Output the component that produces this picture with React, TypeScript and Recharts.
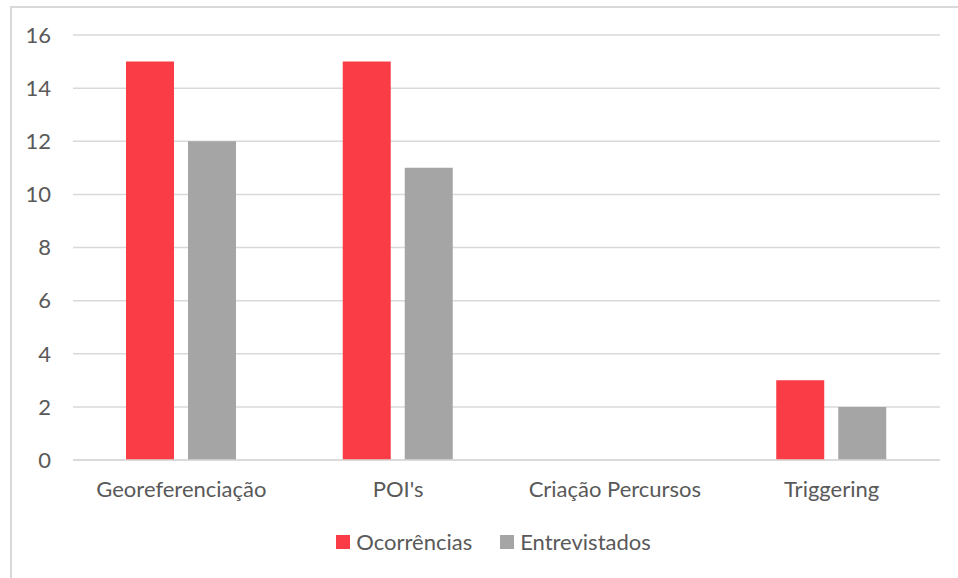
import { BarChart, Bar, XAxis, YAxis, CartesianGrid, Legend } from 'recharts';

const categories = ['Georeferenciação', "POI's", 'Criação Percursos', 'Triggering'];
const ocorrencias = [15, 15, 0, 3];
const entrevistados = [12, 11, 0, 2];
const yTicks = [0, 2, 4, 6, 8, 10, 12, 14, 16];

const RED = '#f93c46';
const GRAY = '#a5a5a5';
const TEXT = '#595959';
const GRID = '#d9d9d9';
const FONT = 'Lato, "Open Sans", sans-serif';
const FS = 22;

const data = categories.map((name, i) => ({
  name,
  ocorrencias: ocorrencias[i],
  entrevistados: entrevistados[i],
}));

const seriesOrder = ['ocorrencias', 'entrevistados'];
const labels: Record<string, string> = {
  ocorrencias: 'Ocorrências',
  entrevistados: 'Entrevistados',
};

function LegendContent({ payload }: any) {
  const items = [...(payload ?? [])].sort(
    (a: any, b: any) => seriesOrder.indexOf(String(a.dataKey)) - seriesOrder.indexOf(String(b.dataKey)),
  );
  return (
    <div style={{ display: 'flex', justifyContent: 'center', gap: 28, paddingLeft: 47, fontFamily: FONT, fontSize: FS, color: TEXT }}>
      {items.map((p: any) => (
        <span key={p.dataKey} style={{ display: 'inline-flex', alignItems: 'center' }}>
          <span style={{ width: 14, height: 14, background: p.color, marginRight: 6, display: 'inline-block' }} />
          {labels[String(p.dataKey)] ?? p.value}
        </span>
      ))}
    </div>
  );
}

export default function App() {
  return (
    <div style={{ position: 'fixed', left: 0, top: 0, width: 958, height: 578, background: '#fff', overflow: 'hidden' }}>
      {/* outer frame, only top and left edges show */}
      <div style={{ position: 'absolute', left: 10, top: 6, width: 980, height: 620, border: `2px solid ${GRID}`, boxSizing: 'border-box' }} />
      <div style={{ position: 'absolute', left: 0, top: 0 }}>
        <BarChart
          width={958}
          height={578}
          data={data}
          margin={{ top: 35, right: 18, bottom: 61, left: 0 }}
          barSize={48}
          barGap={14}
        >
          <CartesianGrid vertical={false} stroke={GRID} strokeWidth={1.5} />
          <XAxis
            dataKey="name"
            axisLine={{ stroke: GRID, strokeWidth: 1.5 }}
            tickLine={false}
            tickMargin={15}
            tick={{ fill: TEXT, fontSize: FS, fontFamily: FONT }}
            interval={0}
          />
          <YAxis
            width={73}
            domain={[0, 16]}
            ticks={yTicks}
            axisLine={false}
            tickLine={false}
            tickMargin={16}
            tick={{ fill: TEXT, fontSize: FS, fontFamily: FONT }}
          />
          <Legend verticalAlign="bottom" content={<LegendContent />} wrapperStyle={{ top: 528 }} />
          <Bar dataKey="ocorrencias" fill={RED} isAnimationActive={false} />
          <Bar dataKey="entrevistados" fill={GRAY} isAnimationActive={false} />
        </BarChart>
      </div>
    </div>
  );
}
